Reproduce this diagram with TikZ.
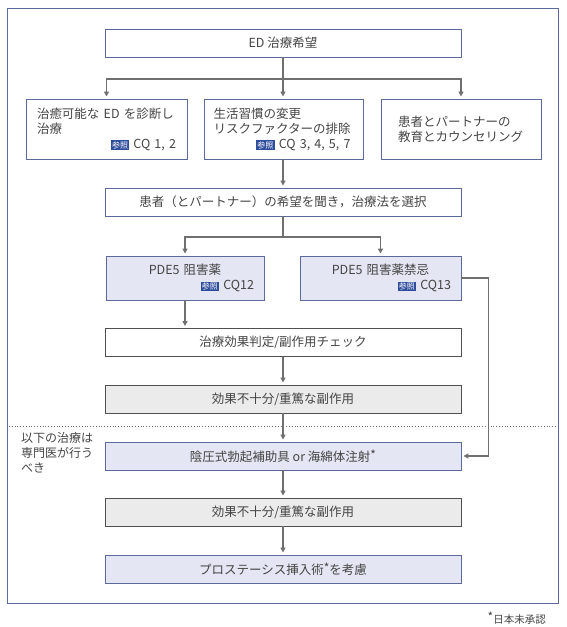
\documentclass[tikz,border=0pt]{standalone}
\usepackage{fontspec}
\setmainfont{Noto Sans CJK JP}
\usetikzlibrary{arrows.meta}
\definecolor{boxblue}{HTML}{5B6A9A}
\definecolor{boxfill}{HTML}{E4E6F3}
\definecolor{grayfill}{HTML}{EBEBEB}
\definecolor{grayline}{HTML}{505050}
\definecolor{arrgray}{HTML}{707070}
\definecolor{txtgray}{HTML}{444444}
\definecolor{badgeblue}{HTML}{2E4C9C}
\newcommand{\sansho}{{\setlength{\fboxsep}{1.2pt}\colorbox{badgeblue}{\color{white}\fontsize{8}{9}\selectfont 参照}}}
\newcommand{\rline}[1]{\makebox[\linewidth][r]{#1}}
\newcommand{\unapp}{\raisebox{2pt}{\fontsize{12}{12}\selectfont *}}

\begin{document}
\begin{tikzpicture}[x=1pt,y=-1pt,
  font=\fontsize{12.5}{15}\selectfont\color{txtgray},
  box/.style={draw=boxblue,line width=0.9pt,inner sep=0pt,minimum height=28pt},
  wide/.style={box,minimum width=356pt},
  lav/.style={fill=boxfill},
  grey/.style={draw=grayline,fill=grayfill},
  conn/.style={draw=arrgray,line width=1.4pt},
  arr/.style={conn,-{Triangle[length=5pt,width=5pt]},shorten >=2pt}]
 \useasboundingbox (0,0) rectangle (567,627);
 % outer frame and split line
 \draw[boxblue,line width=0.9pt](7,8) rectangle (558,603);
 \draw[arrgray,line width=0.8pt,dotted](9,426)--(556,426);
 % boxes
 \node[wide] (wish) at (283,43) {ED 治療希望};
 \node[box,minimum width=161pt,minimum height=60pt,text width=139pt,align=left] (cure) at (106.5,129)
   {治癒可能な ED を診断し\\治療\\\rline{\sansho\ CQ 1, 2}};
 \node[box,minimum width=159pt,minimum height=60pt,text width=141pt,align=left] (life) at (284,129)
   {生活習慣の変更\\リスクファクターの排除\\\rline{\sansho\ CQ 3, 4, 5, 7\hspace*{4pt}}};
 \node[box,minimum width=160pt,minimum height=60pt,text width=126pt,align=left] (edu) at (461,129)
   {患者とパートナーの\\教育とカウンセリング};
 \node[wide] (choose) at (283,202) {患者（とパートナー）の希望を聞き，治療法を選択};
 \node[box,lav,minimum width=158pt,minimum height=44pt,text width=138pt,align=center] (pde) at (185,278)
   {PDE5 阻害薬\\\rline{\sansho\ CQ12}};
 \node[box,lav,minimum width=161pt,minimum height=44pt,text width=141pt,align=center] (contra) at (380.5,278)
   {PDE5 阻害薬禁忌\\\rline{\sansho\ CQ13}};
 \node[wide,grey,fill=white] (check) at (283,342.5) {治療効果判定/副作用チェック};
 \node[wide,grey] (fail1) at (283,399) {効果不十分/重篤な副作用};
 \node[wide,lav] (vac) at (283,456) {陰圧式勃起補助具 or 海綿体注射\unapp};
 \node[wide,grey] (fail2) at (283,512) {効果不十分/重篤な副作用};
 \node[wide,lav] (pros) at (283,569) {プロステーシス挿入術\unapp を考慮};
 % notes
 \node[anchor=north west,align=left,inner sep=0pt,font=\fontsize{12}{15}\selectfont\color{txtgray}] (spec) at (21,432)
   {以下の治療は\\専門医が行う\\べき};
 \node[anchor=east,inner sep=0pt,font=\fontsize{10.5}{12}\selectfont\color{txtgray}] (fn) at (546,618)
   {\unapp 日本未承認};
 % connectors
 \coordinate (fork1) at (283,79);
 \coordinate (fork2) at (283,237);
 \draw[conn](wish.south)--(fork1);
 \draw[arr](fork1)-|(cure.north);
 \draw[arr](fork1)--(fork1|-life.north);
 \draw[arr](fork1)-|(edu.north);
 \draw[arr](life.south-|choose.north)--(choose.north);
 \draw[conn](choose.south)--(fork2);
 \draw[arr](fork2)-|(pde.north);
 \draw[arr](fork2)-|(contra.north);
 \draw[arr](pde.south)--(pde.south|-check.north);
 \draw[arr](check.south)--(fail1.north);
 \draw[arr](fail1.south)--(vac.north);
 \draw[arr](contra.east)--++(27,0)|-(vac.east);
 \draw[arr](vac.south)--(fail2.north);
 \draw[arr](fail2.south)--(pros.north);
\end{tikzpicture}
\end{document}
